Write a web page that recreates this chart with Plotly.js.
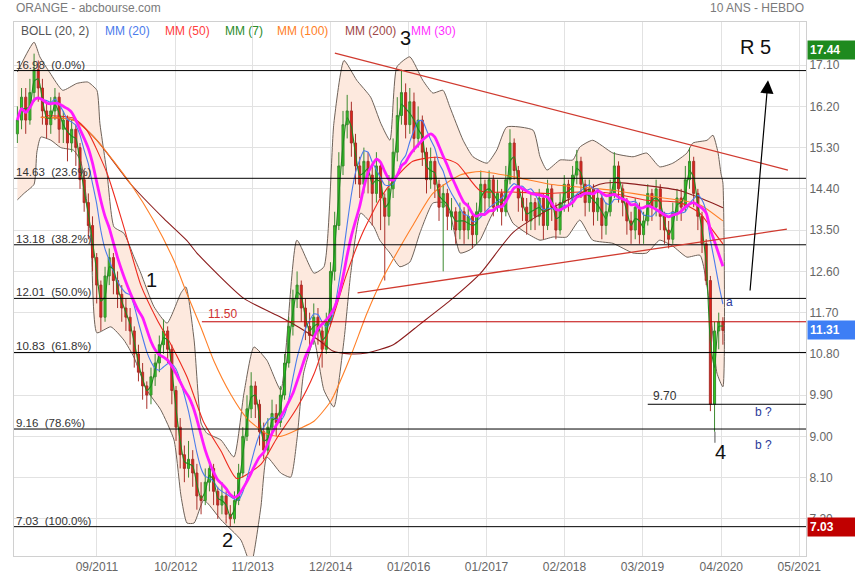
<!DOCTYPE html>
<html><head><meta charset="utf-8">
<script src="https://cdn.plot.ly/plotly-3.0.1.min.js"></script>
<style>html,body{margin:0;padding:0;background:#fff}#chart{width:855px;height:580px}</style>
</head><body><div id="chart"></div>
<script>
// ---- price data (3-week candles starting 2010-08-16) ----
const firstCandle = '2010-08-16';
const candleStepDays = 21;
const openP = [15.6,15.9,16.4,15.9,16.5,17.0,16.6,16.1,15.8,16.1,
16.4,15.7,15.9,15.4,15.7,15.3,14.6,14.1,13.6,12.9,
12.3,11.6,12.5,12.9,12.4,12.1,11.8,11.6,11.3,10.8,
10.4,10.1,9.9,10.3,10.6,11.0,11.3,10.9,10.0,9.2,
8.6,8.3,8.5,8.2,7.7,7.6,8.0,8.3,7.8,7.5,
7.7,7.3,7.2,7.6,8.2,9.0,9.6,10.1,9.7,9.1,
8.7,9.2,9.5,9.3,9.9,10.6,11.4,12.0,12.3,11.8,
11.4,11.2,11.6,11.3,10.9,11.5,12.6,13.6,14.9,15.8,
16.1,15.4,14.9,14.5,15.0,14.7,14.3,14.9,14.2,13.8,
14.4,15.2,16.0,16.5,15.8,16.3,15.5,15.9,15.2,14.6,
15.0,14.5,14.0,14.3,13.8,13.9,13.5,13.9,13.5,13.8,
13.4,13.9,14.5,14.2,14.6,14.0,14.3,13.9,14.6,15.4,
14.8,14.2,14.0,13.7,14.1,13.8,14.2,13.6,14.4,14.0,
13.5,14.1,14.5,14.2,14.7,15.0,14.5,14.1,14.4,13.9,
14.2,13.6,13.9,14.3,14.9,14.4,14.1,13.7,13.5,14.0,
13.4,13.7,14.3,14.0,14.4,13.8,13.5,13.3,13.9,14.2,
14.0,14.6,15.0,14.3,13.8,13.2,12.4,9.7,11.3,11.5];
const highP = [16.2,16.6,16.6,16.8,17.35,17.2,16.8,16.3,16.4,16.6,
16.5,16.1,16.0,15.9,15.8,15.4,14.8,14.3,13.8,13.0,
12.4,12.7,13.1,13.0,12.6,12.3,12.0,11.8,11.4,11.0,
10.6,10.2,10.5,10.8,11.2,11.55,11.4,11.0,10.1,9.4,
8.8,8.9,8.7,8.4,8.0,8.3,8.5,8.4,7.9,8.0,
7.8,7.5,7.8,8.4,9.2,9.9,10.4,10.2,9.8,9.3,
9.4,9.8,9.7,10.1,10.8,11.6,12.2,12.6,12.4,12.0,
11.7,11.9,11.8,11.4,11.7,12.8,13.9,15.2,16.1,16.45,
16.3,15.6,15.1,15.3,15.2,14.9,15.2,15.0,14.3,14.7,
15.5,16.4,17.0,16.7,16.6,16.5,16.2,16.0,15.3,15.3,
15.1,14.6,14.5,14.4,14.2,14.0,14.1,14.0,14.1,13.9,
14.1,14.8,14.6,14.8,14.7,14.6,14.4,14.9,15.7,15.5,
14.9,14.4,14.2,14.3,14.2,14.4,14.3,14.6,14.5,14.1,
14.3,14.7,14.6,14.9,15.25,15.1,14.6,14.6,14.5,14.4,
14.3,14.1,14.6,15.2,15.0,14.5,14.2,13.9,14.2,14.1,
13.9,14.5,14.4,14.6,14.5,13.9,13.7,14.1,14.4,14.4,
14.9,15.3,15.1,14.4,13.9,13.3,12.5,11.5,11.7,11.6];
const lowP = [15.4,15.7,15.6,15.8,16.3,16.3,15.8,15.5,15.6,15.9,
15.4,15.4,15.0,15.2,14.9,14.4,13.9,13.3,12.6,11.9,
11.3,11.5,12.3,12.1,11.8,11.5,11.3,11.0,10.5,10.2,
9.8,9.6,9.7,10.1,10.4,10.8,10.6,9.7,8.9,8.3,
8.0,8.1,7.9,7.4,7.3,7.5,7.8,7.5,7.2,7.3,
7.1,7.03,7.1,7.5,8.1,8.9,9.4,9.4,8.8,8.5,
8.6,9.0,9.0,9.2,9.8,10.5,11.2,11.8,11.5,11.1,
10.9,11.0,11.0,10.5,10.8,11.4,12.4,13.5,14.7,15.5,
15.1,14.5,14.2,14.3,14.3,13.6,14.1,13.5,12.4,13.6,
14.2,15.0,15.8,15.5,15.6,15.2,15.3,14.9,14.3,14.4,
14.2,13.7,12.6,13.5,13.5,13.2,13.3,13.2,13.3,13.1,
13.2,13.8,13.9,14.0,13.8,13.9,13.6,13.8,14.5,14.6,
13.9,13.7,13.4,13.5,13.5,13.6,13.3,13.5,13.7,13.3,
13.4,13.9,13.9,14.0,14.5,14.2,13.8,13.9,13.6,13.7,
13.3,13.4,13.8,14.2,14.1,13.8,13.4,13.2,13.3,13.2,
13.2,13.6,13.7,13.8,13.5,13.2,13.1,13.2,13.7,13.7,
13.9,14.4,14.0,13.5,13.0,12.3,9.55,9.1,10.9,11.0];
const closeP = [15.9,16.4,15.9,16.5,17.0,16.6,16.1,15.8,16.1,16.4,
15.7,15.9,15.4,15.7,15.3,14.6,14.1,13.6,12.9,12.3,
11.6,12.5,12.9,12.4,12.1,11.8,11.6,11.3,10.8,10.4,
10.1,9.9,10.3,10.6,11.0,11.3,10.9,10.0,9.2,8.6,
8.3,8.5,8.2,7.7,7.6,8.0,8.3,7.8,7.5,7.7,
7.3,7.2,7.6,8.2,9.0,9.6,10.1,9.7,9.1,8.7,
9.2,9.5,9.3,9.9,10.6,11.4,12.0,12.3,11.8,11.4,
11.2,11.6,11.3,10.9,11.5,12.6,13.6,14.9,15.8,16.1,
15.4,14.9,14.5,15.0,14.7,14.3,14.9,14.2,13.8,14.4,
15.2,16.0,16.5,15.8,16.3,15.5,15.9,15.2,14.6,15.0,
14.5,14.0,14.3,13.8,13.9,13.5,13.9,13.5,13.8,13.4,
13.9,14.5,14.2,14.6,14.0,14.3,13.9,14.6,15.4,14.8,
14.2,14.0,13.7,14.1,13.8,14.2,13.6,14.4,14.0,13.5,
14.1,14.5,14.2,14.7,15.0,14.5,14.1,14.4,13.9,14.2,
13.6,13.9,14.3,14.9,14.4,14.1,13.7,13.5,14.0,13.4,
13.7,14.3,14.0,14.4,13.8,13.5,13.3,13.9,14.2,14.0,
14.6,15.0,14.3,13.8,13.2,12.4,9.7,11.3,11.5,11.31];

// ---- Bollinger bands ----
const bollUpDates = ['2010-08-16','2010-11-08','2010-12-07','2011-01-27','2011-04-01','2011-06-11','2011-08-05','2011-09-20','2011-10-05','2011-11-10','2011-12-15','2012-02-03','2012-03-24','2012-04-28','2012-07-03','2012-09-07','2012-11-16','2012-12-11','2013-01-21','2013-02-25','2013-03-26','2013-06-05','2013-08-09','2013-09-29','2013-11-18','2014-01-22','2014-04-02','2014-06-22','2014-09-16','2014-11-05','2014-12-25','2015-02-14','2015-04-19','2015-06-28','2015-08-18','2015-10-03','2015-11-07','2016-01-11','2016-03-16','2016-05-06','2016-06-26','2016-07-31','2016-10-05','2016-11-24','2017-02-03','2017-03-24','2017-05-13','2017-09-22','2017-10-27','2017-12-01','2018-02-05','2018-04-10','2018-05-15','2018-07-19','2018-10-29','2019-02-07','2019-04-17','2019-06-21','2019-08-26','2019-11-05','2019-12-05','2020-02-14','2020-03-15','2020-04-09','2020-04-24','2020-05-04'];
const bollUpVals = [16.95,17.6,17.28,16.93,16.55,16.7,16.73,16.55,15.83,14.74,13.57,13.43,12.92,12.56,11.83,11.47,12.13,12.26,11.1,9.29,9.07,8.92,8.55,9.95,10.95,10.66,10.01,13.28,12.56,12.7,15.83,17.2,16.77,16.4,15.83,15.46,17.06,17.28,16.77,16.49,16.55,16.18,15.46,15.1,14.96,15.25,15.75,15.68,15.1,14.81,15.03,15.03,15.31,15.46,15.18,15.1,15.18,14.88,14.96,15.18,15.4,15.46,15.57,15.2,14.74,14.53];
const bollLoDates = ['2010-08-16','2010-09-18','2010-11-08','2010-11-22','2010-12-12','2011-02-01','2011-03-22','2011-05-26','2011-07-01','2011-08-21','2011-09-20','2011-11-29','2012-02-03','2012-03-24','2012-05-28','2012-08-06','2012-10-12','2012-11-16','2012-12-16','2013-01-21','2013-03-11','2013-06-05','2013-09-13','2013-11-03','2013-12-23','2014-01-22','2014-04-02','2014-05-22','2014-06-22','2014-07-26','2014-09-16','2014-11-05','2014-12-25','2015-02-14','2015-03-20','2015-05-09','2015-07-14','2015-08-13','2015-10-03','2015-11-22','2016-01-11','2016-03-02','2016-05-06','2016-06-26','2016-07-31','2016-09-20','2016-11-09','2016-12-29','2017-03-04','2017-04-23','2017-06-13','2017-08-22','2017-10-27','2018-01-01','2018-03-11','2018-05-15','2018-07-19','2018-10-29','2019-02-07','2019-04-17','2019-06-21','2019-08-26','2019-11-05','2020-01-10','2020-02-29','2020-04-04','2020-05-04'];
const bollLoVals = [14.16,14.3,14.5,15.2,15.53,15.46,15.3,15.24,15.0,13.28,11.26,11.39,11.1,10.73,10.01,9.58,8.92,7.7,7.11,7.11,7.61,7.18,6.74,6.2,7.46,8.55,8.2,8.11,8.92,10.38,11.1,10.01,9.64,11.1,12.56,13.87,13.57,13.28,13.0,12.7,12.8,13.44,14.09,14.1,13.87,13.0,13.07,13.28,13.87,14.09,13.65,13.43,13.28,13.35,13.35,13.72,13.28,13.21,13.0,13.0,13.28,13.15,12.91,12.95,11.82,10.38,10.08];

// ---- long moving averages ----
const mm50Dates = ['2011-01-02','2011-05-26','2011-07-31','2011-11-10','2012-02-03','2012-04-28','2012-07-18','2012-09-27','2012-12-16','2013-03-11','2013-06-05','2013-08-24','2013-12-23','2014-03-13','2014-06-22','2014-09-16','2014-12-10','2015-02-28','2015-05-24','2015-08-18','2015-10-20','2016-01-26','2016-05-27','2016-09-05','2016-12-30','2017-06-14','2017-12-02','2018-05-15','2018-10-29','2019-04-17','2019-10-02','2020-01-11','2020-03-15','2020-05-04'];
const mm50Vals = [16.0,15.94,15.68,14.74,13.56,12.3,11.55,11.0,10.3,9.3,8.68,8.08,8.39,8.96,9.62,10.36,11.45,12.55,13.49,14.21,14.58,15.0,15.09,14.95,14.36,14.33,14.3,14.33,14.3,14.15,14.1,13.86,13.49,13.2];
const mm100Dates = ['2010-12-12','2011-05-26','2011-09-20','2012-03-09','2012-07-03','2012-10-12','2012-12-16','2013-02-25','2013-04-30','2013-07-24','2013-10-13','2014-01-22','2014-04-02','2014-07-11','2014-09-16','2014-12-10','2015-03-15','2015-06-08','2015-08-29','2015-11-22','2016-01-26','2016-05-06','2016-09-20','2016-12-30','2017-07-02','2017-12-17','2018-10-29','2019-04-17','2019-10-02','2020-01-11','2020-05-04'];
const mm100Vals = [15.96,15.9,15.46,14.5,13.7,12.83,12.11,11.37,10.65,9.92,9.4,9.05,9.0,9.18,9.33,9.77,10.7,11.67,12.46,13.12,13.6,14.3,14.7,14.78,14.65,14.5,14.37,14.25,14.15,14.05,13.7];
const mm200Dates = ['2010-12-12','2011-05-26','2011-09-20','2012-03-09','2012-08-22','2012-12-16','2013-02-04','2013-09-28','2014-04-02','2014-07-06','2014-10-16','2014-12-20','2015-03-15','2015-06-08','2015-10-20','2016-03-03','2016-07-31','2016-12-30','2017-06-14','2017-12-02','2018-03-12','2018-08-23','2018-10-29','2019-04-17','2019-10-02','2020-01-11','2020-05-04'];
const mm200Vals = [15.96,15.9,15.46,14.5,13.75,13.27,13.0,12.01,11.6,11.37,11.08,10.86,10.8,10.82,11.0,11.45,11.96,12.55,13.45,13.93,14.15,14.5,14.54,14.47,14.36,14.2,13.99];

// ---- levels and labels ----
const fibLevels = [16.98,14.63,13.18,12.01,10.83,9.16,7.03];
const fibPct = ['0.0%','23.6%','38.2%','50.0%','61.8%','78.6%','100.0%'];
const resistanceLevel = 11.50;
const supportLevel = 9.70;
const lastPrice = 11.31, highBadge = 17.44, lowBadge = 7.03;
const yTicks = [7.2,8.1,9.0,9.9,10.8,11.7,12.6,13.5,14.4,15.3,16.2,17.1];
const xTickDates = ['2011-09-20','2012-10-21','2013-11-12','2014-12-09','2016-01-05','2017-01-31','2018-02-27','2019-03-26','2020-04-26','2021-05-23'];
const xTickText = ['09/2011','10/2012','11/2013','12/2014','01/2016','01/2017','02/2018','03/2019','04/2020','05/2021'];
const waveLabels = ['1','2','3','4','R 5'];
const waveDates = ['2012-06-23','2013-07-10','2015-12-22','2020-04-20','2020-10-15'];
const waveVals = [12.41,6.74,17.69,8.66,17.49];
const legendNames = ['BOLL (20, 2)','MM (20)','MM (50)','MM (7)','MM (100)','MM (200)','MM (30)'];
const legendColors = ['#555555','#4b7bec','#ff4040','#2a8c2a','#ff7f27','#a04848','#ff30ff'];
const legendPx = [19,103,163,223,275,343,409];

// ---- build ----
const t0 = Date.parse(firstCandle + 'T00:00:00Z');
const dates = closeP.map((_, i) => new Date(t0 + i * candleStepDays * 86400000).toISOString().slice(0, 10));
function sma(a, n) { return a.map((_, i) => { const w = a.slice(Math.max(0, i - n + 1), i + 1); return w.reduce((s, v) => s + v, 0) / w.length; }); }
const mm7 = sma(closeP, 2), mm20 = sma(closeP, 7), mm30 = sma(closeP, 10);

const line = (x, y, color, width, ax) => ({type: 'scatter', mode: 'lines', x, y, xaxis: ax ? 'x2' : 'x', yaxis: ax ? 'y2' : 'y',
  line: {color, width, shape: 'spline', smoothing: 0.6}, hoverinfo: 'skip', showlegend: false});
// Bollinger polygon: upper forward, lower backward, filled
const bandX = bollUpDates.concat(bollLoDates.slice().reverse());
const bandY = bollUpVals.concat(bollLoVals.slice().reverse());
const traces = [
  {type: 'scatter', mode: 'lines', x: bandX, y: bandY, fill: 'toself', fillcolor: '#fde9de',
   line: {color: '#6e6259', width: 1, shape: 'spline', smoothing: 0.5}, hoverinfo: 'skip', showlegend: false},
  {type: 'candlestick', x: dates, open: openP, high: highP, low: lowP, close: closeP, xaxis: 'x2', yaxis: 'y2',
   increasing: {line: {color: '#3d8a30', width: 1}, fillcolor: '#2ec820'},
   decreasing: {line: {color: '#a8302a', width: 1}, fillcolor: '#e2231a'},
   whiskerwidth: 0, hoverinfo: 'skip', showlegend: false},
  line(mm200Dates, mm200Vals, '#8b1c1c', 1.1, true),
  line(mm100Dates, mm100Vals, '#ff7f27', 1.1, true),
  line(mm50Dates, mm50Vals, '#ee2a1e', 1.1, true),
  line(dates, mm20, '#4b7bec', 1.1, true),
  line(dates, mm7, '#1f8a1f', 1.1, true),
  line(dates, mm30, '#ff1aff', 2.8, true)
];

const xStart = '2010-07-30', xEnd = '2021-06-26';
const shapes = [];
fibLevels.forEach(v => shapes.push({type: 'line', xref: 'paper', x0: 0, x1: 1, yref: 'y', y0: v, y1: v, line: {color: '#000', width: 1}}));
shapes.push({type: 'line', xref: 'x', x0: '2013-03-01', x1: xEnd, yref: 'y', y0: resistanceLevel, y1: resistanceLevel, line: {color: '#c00000', width: 1}});
shapes.push({type: 'line', xref: 'x', x0: '2019-04-22', x1: xEnd, yref: 'y', y0: supportLevel, y1: supportLevel, line: {color: '#000', width: 1}});
shapes.push({type: 'line', xref: 'x', x0: '2014-12-30', x1: '2021-03-27', yref: 'y', y0: 17.36, y1: 14.81, line: {color: '#d03a2f', width: 1.3}});
shapes.push({type: 'line', xref: 'x', x0: '2015-04-23', x1: '2021-03-22', yref: 'y', y0: 12.13, y1: 13.52, line: {color: '#d03a2f', width: 1.3}});
shapes.push({type: 'line', xref: 'x', x0: '2020-03-25', x1: '2020-03-25', yref: 'y', y0: 9.1, y1: 8.86, line: {color: '#555', width: 1}});

const FONT = '"Liberation Sans", Arial, sans-serif';
const ann = [];
fibLevels.forEach((v, i) => ann.push({xref: 'paper', x: 0, xanchor: 'left', xshift: 0, yref: 'y', y: v, yanchor: 'bottom', yshift: -2,
  text: v.toFixed(2) + '\u00a0\u00a0(' + fibPct[i] + ')', showarrow: false, font: {family: FONT, size: 11.5, color: '#333'}}));
ann.push({xref: 'x', x: '2013-03-20', xanchor: 'left', yref: 'y', y: resistanceLevel, yanchor: 'bottom', yshift: -1, text: resistanceLevel.toFixed(2), showarrow: false, font: {family: FONT, size: 12, color: '#d03030'}});
ann.push({xref: 'x', x: '2019-05-10', xanchor: 'left', yref: 'y', y: supportLevel, yanchor: 'bottom', yshift: -1, text: supportLevel.toFixed(2), showarrow: false, font: {family: FONT, size: 12, color: '#333'}});
waveLabels.forEach((t, i) => ann.push({xref: 'x', x: waveDates[i], yref: 'y', y: waveVals[i], text: t, showarrow: false, font: {family: FONT, size: 20, color: '#111'}}));
ann.push({xref: 'x', x: '2020-06-08', yref: 'y', y: 11.93, text: 'a', showarrow: false, font: {family: FONT, size: 12, color: '#2b3a9a'}});
ann.push({xref: 'x', x: '2020-11-22', yref: 'y', y: 9.53, text: 'b ?', showarrow: false, font: {family: FONT, size: 12, color: '#2b3a9a'}});
ann.push({xref: 'x', x: '2020-11-25', yref: 'y', y: 8.81, text: 'b ?', showarrow: false, font: {family: FONT, size: 12, color: '#2b3a9a'}});
ann.push({xref: 'x', x: '2020-12-17', yref: 'y', y: 16.77, axref: 'x', ax: '2020-09-17', ayref: 'y', ay: 12.15, text: '', showarrow: true, arrowhead: 2, arrowsize: 2.2, arrowwidth: 1.2, arrowcolor: '#000'});
// badges on right axis
[[highBadge, '#1e8a1e'], [lastPrice, '#3d7ef5'], [lowBadge, '#c00000']].forEach(([v, c]) => ann.push({xref: 'paper', x: 1, xanchor: 'left', xshift: 1, yref: 'y', y: v, yanchor: 'middle',
  text: '<b>' + v.toFixed(2) + '</b>', showarrow: false, bgcolor: c, width: 43, align: 'left', borderpad: 2, font: {family: FONT, size: 12, color: '#fff'}}));
// legend row
legendNames.forEach((t, i) => ann.push({xref: 'paper', x: (legendPx[i] - 14) / 792, xanchor: 'left', yref: 'paper', y: 0.983, yanchor: 'middle', text: t, showarrow: false, font: {family: FONT, size: 12, color: legendColors[i]}}));
// header
ann.push({xref: 'paper', x: 0, xanchor: 'left', yref: 'paper', y: 1.026, yanchor: 'middle', text: 'ORANGE - abcbourse.com', showarrow: false, font: {family: FONT, size: 12, color: '#7a7a7a'}});
ann.push({xref: 'paper', x: 1, xanchor: 'right', yref: 'paper', y: 1.026, yanchor: 'middle', text: '10 ANS - HEBDO', showarrow: false, font: {family: FONT, size: 12, color: '#7a7a7a'}});

const yRange = [6.39, 18.04];
const layout = {
  width: 855, height: 580, margin: {l: 14, r: 49, t: 22, b: 24},
  paper_bgcolor: '#fff', plot_bgcolor: '#fff', showlegend: false,
  font: {family: FONT, size: 12, color: '#666'},
  xaxis: {type: 'date', range: [xStart, xEnd], tickvals: xTickDates, ticktext: xTickText, showgrid: true, gridcolor: '#e2e2e2',
    showline: true, linecolor: '#d0d0d0', mirror: true, ticks: '', rangeslider: {visible: false}, tickfont: {size: 12, color: '#666'}, zeroline: false},
  yaxis: {side: 'right', range: yRange, tickvals: yTicks, tickformat: '.2f', showgrid: true, gridcolor: '#e2e2e2',
    showline: true, linecolor: '#d0d0d0', mirror: true, ticks: '', zeroline: false, tickfont: {size: 12, color: '#666'}},
  xaxis2: {type: 'date', overlaying: 'x', range: [xStart, xEnd], visible: false, showgrid: false, rangeslider: {visible: false}},
  yaxis2: {overlaying: 'y', side: 'right', range: yRange, visible: false, showgrid: false, zeroline: false},
  shapes, annotations: ann
};
Plotly.newPlot('chart', traces, layout, {displayModeBar: false, staticPlot: true});
</script></body></html>
